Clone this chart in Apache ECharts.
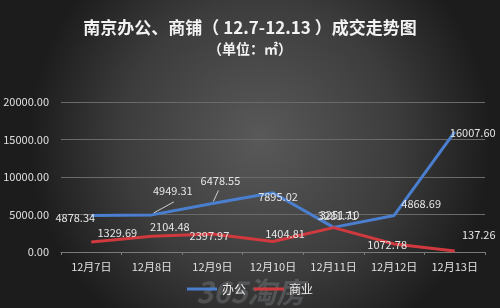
<!DOCTYPE html>
<html><head><meta charset="utf-8">
<script src="https://cdn.jsdelivr.net/npm/echarts@6/dist/echarts.min.js"></script>
<style>html,body{margin:0;padding:0;background:#2a2a2a}#c{width:500px;height:308px}</style>
</head><body><div id="c"></div>
<script>
const categories = ['12月7日','12月8日','12月9日','12月10日','12月11日','12月12日','12月13日'];
const officeValues = [4878.34, 4949.31, 6478.55, 7895.02, 3281.71, 4868.69, 16007.60];
const shopValues = [1329.69, 2104.48, 2397.97, 1404.81, 3251.10, 1072.78, 137.26];
const yTicks = [0, 5000, 10000, 15000, 20000];
const seriesNames = ['办公', '商业'];

// label placement (layout only)
const officeLabelShift = [[-16,2],[21,-24],[8,-23],[5,4],[4,-12],[27,-12],[18,1]];
const shopLabelShift = [[26,-9],[18,-9],[-3,2],[12,-8],[6,-13],[-7,1],[24,-16]];
// leader lines: [dataIndex, startDx, startDy, endDx, endDy] in pixels relative to the point
const officeLeaders = [[1, 2,-2, 22,-13],[2, 1,-2, 6,-13]];

const font = '"Noto Sans CJK SC", "Liberation Sans", sans-serif';
const chart = echarts.init(document.getElementById('c'), null, {renderer:'canvas'});

function mkSeries(name, values, color, shifts){
  return {
    name, type:'line', data: values,
    symbol:'circle', symbolSize:1, showSymbol:true,
    lineStyle:{color, width:3},
    itemStyle:{color},
    label:{show:true, position:'inside', color:'#e6e6e6', fontSize:11, fontFamily:font,
      formatter: p => p.value.toFixed(2)},
    labelLayout: p => ({dx: shifts[p.dataIndex][0], dy: shifts[p.dataIndex][1]}),
    emphasis:{disabled:true}, animation:false, z:2
  };
}

chart.setOption({
  backgroundColor: {type:'radial', x:0.52, y:0.45, r:0.75,
    colorStops:[{offset:0,color:'#595959'},{offset:0.6,color:'#3c3c3c'},{offset:1,color:'#1c1c1c'}]},
  animation:false,
  title:{text:'南京办公、商铺（ 12.7-12.13 ）成交走势图', subtext:'（单位：㎡）', left:'center', top:14,
    itemGap:6,
    textStyle:{color:'#f2f2f2', fontSize:17, fontWeight:'bold', fontFamily:font},
    subtextStyle:{color:'#f2f2f2', fontSize:14, fontWeight:'bold', fontFamily:font}},
  legend:{bottom:8, left:'center', itemWidth:30, itemHeight:3, itemGap:8,
    icon:'rect',
    textStyle:{color:'#ececec', fontSize:12, fontFamily:font},
    data: seriesNames},
  grid:{left:61, right:15, top:102, bottom:56},
  xAxis:{type:'category', data:categories, boundaryGap:true,
    axisLine:{lineStyle:{color:'#7a7a7a', width:1}},
    axisTick:{show:true, length:3, lineStyle:{color:'#7a7a7a'}},
    axisLabel:{color:'#e0e0e0', fontSize:11, fontFamily:font, margin:9}},
  yAxis:{type:'value', min:yTicks[0], max:yTicks[yTicks.length-1], interval:yTicks[1]-yTicks[0],
    axisLine:{show:false}, axisTick:{show:false},
    splitLine:{lineStyle:{color:'#6a6a6a', width:1}},
    axisLabel:{color:'#e0e0e0', fontSize:11, fontFamily:font, margin:12, formatter:v=>v.toFixed(2)}},
  graphic:[{type:'text', left:196, top:277, silent:true, z:0,
    style:{text:'365淘房', fill:'rgba(200,205,215,0.2)', font:'italic bold 29px '+font}}],
  series:[
    mkSeries(seriesNames[0], officeValues, '#4a7fcf', officeLabelShift),
    mkSeries(seriesNames[1], shopValues, '#d0393e', shopLabelShift),
    {
      type:'custom', name:'leaders', silent:true, z:3,
      data: officeLeaders.map(l => [l[0], officeValues[l[0]], l[1], l[2], l[3], l[4]]),
      renderItem: (params, api) => {
        const p = api.coord([api.value(0), api.value(1)]);
        return {type:'line', shape:{x1:p[0]+api.value(2), y1:p[1]+api.value(3), x2:p[0]+api.value(4), y2:p[1]+api.value(5)},
          style:{stroke:'#d0d0d0', lineWidth:1}};
      }
    }
  ]
});
</script></body></html>
